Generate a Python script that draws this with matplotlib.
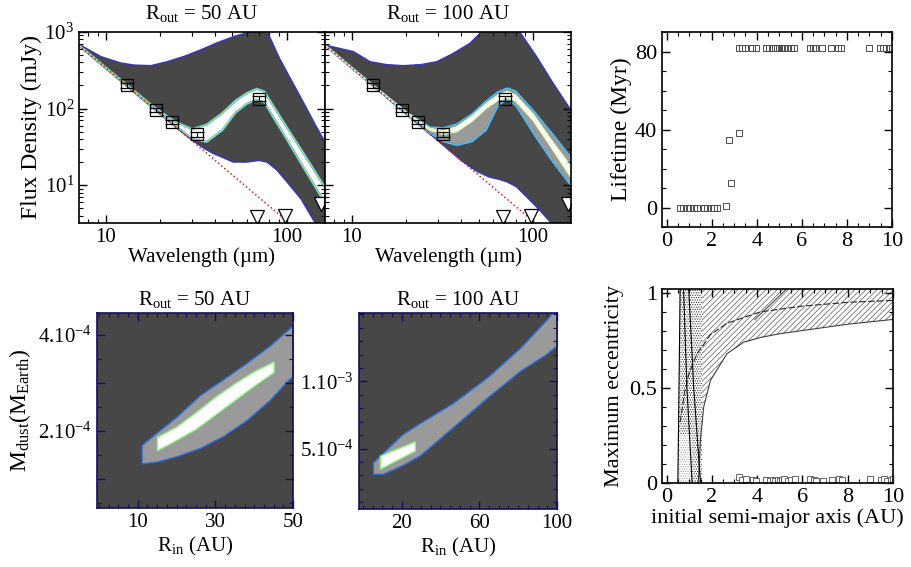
import matplotlib
matplotlib.use('Agg')
import matplotlib.pyplot as plt
from matplotlib.ticker import MultipleLocator, NullFormatter

plt.rcParams['font.family'] = 'serif'
plt.rcParams['font.serif'] = ['Liberation Serif', 'DejaVu Serif']
plt.rcParams['mathtext.fontset'] = 'custom'
plt.rcParams['mathtext.rm'] = 'Liberation Serif'
plt.rcParams['mathtext.it'] = 'Liberation Serif:italic'
plt.rcParams['mathtext.bf'] = 'Liberation Serif:bold'
plt.rcParams['hatch.linewidth'] = 0.5

# ---- SED data (wavelength in micron, flux in mJy) ----
lam_obs = [13.0, 18.8, 23.3, 32.0, 70.0]
flux_obs = [200, 96, 66, 46, 135]
err_obs = [14, 7, 4, 3, 10]
lam_ul = [68, 98, 155]
flux_ul = [3.8, 3.9, 5.6]
phot_lam = [7.1, 170]
phot_flux = [670, 1.17]

# R_out = 50 AU: envelope of all models
env1_hi_lam = [7.1, 9.4, 12, 14.3, 17.7, 21.8, 27, 33.3, 41, 50.6, 62, 70, 78, 91, 120, 143, 170]
env1_hi = [690, 476, 395, 370, 363, 409, 480, 582, 720, 868, 1000, 1300, 1000, 450, 135, 62, 30]
env1_lo_lam = [7.1, 13, 20, 25, 30, 35, 39, 45, 50.5, 60, 70, 77.6, 88, 100, 120, 143, 170]
env1_lo = [670, 200, 85, 54, 38.6, 30, 26, 22.5, 20, 20, 21, 20, 15.7, 11, 6.5, 3.2, 1.6]
# R_out = 50 AU: good fits
b1_lam = [7.1, 10, 13, 18, 24, 30, 36, 44, 52, 60, 68, 75, 85, 100, 125, 162]
b1_lo = [665, 336, 199, 104, 60, 40, 36.5, 52, 88, 115, 130, 120, 73, 39, 16, 5.8]
b1_hi = [680, 345, 207, 110, 68, 54, 62, 88, 128, 160, 182, 168, 105, 57, 25, 9.4]

# R_out = 100 AU: envelope of all models
env2_hi_lam = [7.1, 10.2, 12.6, 15.5, 19.2, 24, 29.4, 36, 44.8, 50.9, 60, 75, 84.5, 105, 129, 170]
env2_hi = [676, 553, 409, 375, 363, 375, 409, 520, 711, 960, 1300, 1400, 1000, 470, 214, 80]
env2_lo_lam = [7.1, 13, 20, 30, 40, 48.8, 57, 65.7, 72, 81, 92.3, 108, 126, 170]
env2_lo = [670, 200, 84.5, 37.6, 21.1, 15.2, 12.8, 11.8, 11, 9.5, 7, 4.8, 3.2, 1.5]
# R_out = 100 AU: acceptable fits (grey) and best fits (white)
g2_lam = [7.1, 13, 20, 27, 32, 38, 46, 55, 64, 72, 80, 90, 100, 125, 162]
g2_lo = [665, 198, 84, 47, 37, 33, 37, 52, 108, 132, 110, 72, 48, 22, 9.8]
g2_hi = [680, 205, 90, 57, 56, 63, 85, 125, 165, 185, 170, 125, 95, 50, 23]
w2_lam = [7.1, 13, 20, 27, 32, 38, 46, 55, 64, 72, 80, 100, 125, 162]
w2_lo = [668, 200, 86, 52, 46, 50, 68, 100, 128, 138, 125, 70, 32, 12.5]
w2_hi = [678, 204, 90, 55, 51, 58, 80, 116, 150, 168, 150, 85, 40, 17.5]

# ---- dust mass vs inner radius ----
g4_rin = [11, 15, 20, 26, 32, 38, 44, 48.5, 50]
g4_lo = [1.33e-4, 1.37e-4, 1.48e-4, 1.65e-4, 1.9e-4, 2.23e-4, 2.65e-4, 3.05e-4, 3.15e-4]
g4_hi = [1.71e-4, 1.98e-4, 2.3e-4, 2.75e-4, 3.08e-4, 3.42e-4, 3.78e-4, 4.1e-4, 4.2e-4]
w4_rin = [14.9, 20, 25, 30, 35, 40, 45]
w4_lo = [1.6e-4, 1.82e-4, 2.05e-4, 2.35e-4, 2.65e-4, 2.95e-4, 3.23e-4]
w4_hi = [1.88e-4, 2.1e-4, 2.4e-4, 2.72e-4, 3.0e-4, 3.25e-4, 3.45e-4]

g5_rin = [5.2, 10.4, 20.7, 29.4, 46.4, 64, 81, 94, 100]
g5_lo = [0.313e-3, 0.313e-3, 0.38e-3, 0.45e-3, 0.66e-3, 0.88e-3, 1.08e-3, 1.2e-3, 1.27e-3]
g5_hi = [0.396e-3, 0.47e-3, 0.61e-3, 0.69e-3, 0.84e-3, 1.03e-3, 1.25e-3, 1.45e-3, 1.55e-3]
w5_rin = [8.8, 26.8]
w5_lo = [0.35e-3, 0.485e-3]
w5_hi = [0.448e-3, 0.554e-3]

# ---- planetesimal lifetimes and eccentricities ----
short_a = [0.6, 0.75, 0.9, 1.05, 1.2, 1.35, 1.65, 1.8, 1.95, 2.1, 2.25, 2.65, 2.77, 2.86, 3.22]
short_life = [0, 0, 0, 0, 0, 0, 0, 0, 0, 0, 0, 0.8, 34.4, 12.8, 38]
surv_a = [3.2, 3.35, 3.5, 3.8, 3.95, 4.4, 4.55, 4.7, 4.8, 4.9, 5.0, 5.1, 5.2, 5.35, 5.5,
          5.65, 6.35, 6.5, 6.6, 6.9, 7.3, 7.6, 7.75, 9.0, 9.45, 9.6, 9.75, 9.9, 10.0]
surv_life = [82, 82, 82, 82, 82, 82, 82, 82, 82, 82, 82, 82, 82, 82, 82,
             82, 82, 82, 82, 82, 82, 82, 82, 82, 82, 82, 82, 82, 82]
surv_ecc = [0.03, 0.015, 0.02, 0.015, 0.01, 0.015, 0.01, 0.015, 0.01, 0.015, 0.01, 0.015, 0.02, 0.01, 0.015,
            0.02, 0.02, 0.015, 0.01, 0.01, 0.015, 0.02, 0.015, 0.02, 0.015, 0.02, 0.01, 0.015, 0.02]

hatch_a = [1.4, 1.5, 1.64, 1.94, 2.67, 3.4, 4.14, 5.0, 6.5, 8.0, 10.0]
hatch_e = [0.0, 0.23, 0.40, 0.54, 0.68, 0.74, 0.765, 0.785, 0.81, 0.835, 0.86]
mid_a = [0.6, 0.8, 1.0, 1.35, 1.94, 2.67, 4.14, 6.0, 8.0, 10.0]
mid_e = [0.32, 0.48, 0.58, 0.68, 0.78, 0.84, 0.90, 0.93, 0.95, 0.96]
top_a = [3.9, 5.3]
top_e = [0.86, 1.02]
stip_e = [0.0, 0.25, 0.25, 1.02]
stip_left = [1.1, 1.1, 0.55, 0.57]
stip_right = [1.57, 1.57, 1.57, 1.57]
light_e = [0.0, 0.25]
light_left = [0.47, 0.5]
light_right = [1.1, 1.1]
apo_lines = [([0.5, 0.6], [0.0, 1.02]),
             ([1.13, 0.9, 0.75], [0.0, 0.5, 1.02]),
             ([1.5, 1.2, 0.98], [0.0, 0.5, 1.02])]


def style_ticks(ax, col='k'):
    ax.tick_params(which='both', direction='in', top=True, right=True, color=col)
    ax.tick_params(which='major', length=6, width=1, labelsize=15)
    ax.tick_params(which='minor', length=3, width=0.8)
    for s in ax.spines.values():
        s.set_color(col)
        s.set_linewidth(1.2)


def draw_sed(ax, hi_lam, hi_f, lo_lam, lo_f, bands):
    ax.fill(hi_lam + lo_lam[::-1], hi_f + lo_f[::-1], color='#474747', lw=0)
    ax.plot(hi_lam, hi_f, color='#3434c0', lw=1)
    ax.plot(lo_lam, lo_f, color='#3434c0', lw=1)
    for lam, lo, hi, face, edge, inner, elw in bands:
        ax.fill(lam + lam[::-1], hi + lo[::-1], facecolor=face, edgecolor=edge, lw=elw)
        ax.plot(lam, lo, color=inner, lw=0.7)
        ax.plot(lam, hi, color=inner, lw=0.7)
    ax.plot(phot_lam, phot_flux, ':', color='#d02020', lw=1.1)
    ax.errorbar(lam_obs, flux_obs, yerr=err_obs, fmt='s', ms=9, mfc='none', mec='k',
                mew=0.9, ecolor='k', elinewidth=0.8, capsize=5)
    ax.plot(lam_ul, flux_ul, 'v', ms=10, mfc='white', mec='k', mew=0.9)
    ax.set_xscale('log')
    ax.set_yscale('log')
    ax.set_xlim(7.1, 162)
    ax.set_ylim(3.2, 1000)
    ax.set_xticks([10, 100])
    ax.set_xticklabels(['10', '100'])
    ax.set_yticks([10, 100, 1000])
    ax.xaxis.set_minor_formatter(NullFormatter())
    ax.yaxis.set_minor_formatter(NullFormatter())
    ax.set_xlabel('Wavelength (µm)', fontsize=15, labelpad=0)
    style_ticks(ax)


def draw_mass(ax, g_rin, g_lo, g_hi, w_rin, w_lo, w_hi):
    ax.set_facecolor('#474747')
    ax.fill_between(g_rin, g_lo, g_hi, facecolor='#9a9a9a', edgecolor='#2f6fe0', lw=1)
    ax.fill_between(w_rin, w_lo, w_hi, facecolor='white', edgecolor='#8ff080', lw=1)
    ax.set_xlabel(r'R$_{\rm in}$ (AU)', fontsize=15, labelpad=2)
    style_ticks(ax, '#10105a')
    ax.tick_params(labelcolor='k')


fig = plt.figure(figsize=(9.12, 5.67), dpi=100)
ax1 = fig.add_axes([0.0866, 0.6067, 0.2697, 0.3369])
ax2 = fig.add_axes([0.3564, 0.6067, 0.2697, 0.3369])
ax3 = fig.add_axes([0.7259, 0.5996, 0.2522, 0.3439])
ax4 = fig.add_axes([0.1064, 0.1041, 0.2149, 0.3439])
ax5 = fig.add_axes([0.3936, 0.1023, 0.2171, 0.3457])
ax6 = fig.add_axes([0.7259, 0.1481, 0.2533, 0.3422])

draw_sed(ax1, env1_hi_lam, env1_hi, env1_lo_lam, env1_lo,
         [(b1_lam, b1_lo, b1_hi, 'white', '#2a9ae0', '#c8f070', 1.6)])
ax1.set_yticklabels(['$10^1$', '$10^2$', '$10^3$'])
ax1.set_ylabel('Flux Density (mJy)', fontsize=17, labelpad=2)
ax1.set_title(r'R$_{\rm out}$ = 50 AU', fontsize=15, pad=9)

draw_sed(ax2, env2_hi_lam, env2_hi, env2_lo_lam, env2_lo,
         [(g2_lam, g2_lo, g2_hi, '#9a9a9a', '#2a9ae0', '#60c8f0', 1.2),
          (w2_lam, w2_lo, w2_hi, 'white', '#d8f8a0', '#e8fcc8', 0.8)])
ax2.set_yticklabels([])
ax2.set_title(r'R$_{\rm out}$ = 100 AU', fontsize=15, pad=9)

# dust mass maps
draw_mass(ax4, g4_rin, g4_lo, g4_hi, w4_rin, w4_lo, w4_hi)
ax4.set_xlim(-0.5, 50)
ax4.set_ylim(0.4e-4, 4.46e-4)
ax4.set_xticks([10, 30, 50])
ax4.xaxis.set_minor_locator(MultipleLocator(2.5))
ax4.set_yticks([1e-4, 2e-4, 3e-4, 4e-4])
ax4.set_yticklabels(['', '2.10$^{-4}$', '', '4.10$^{-4}$'])
ax4.yaxis.set_minor_locator(MultipleLocator(0.5e-4))
ax4.set_ylabel(r'M$_{\rm dust}$(M$_{\rm Earth}$)', fontsize=17, labelpad=4)
ax4.set_title(r'R$_{\rm out}$ = 50 AU', fontsize=15, pad=6)

draw_mass(ax5, g5_rin, g5_lo, g5_hi, w5_rin, w5_lo, w5_hi)
ax5.set_xlim(-2, 100)
ax5.set_ylim(0.05e-3, 1.51e-3)
ax5.set_xticks([20, 60, 100])
ax5.xaxis.set_minor_locator(MultipleLocator(5))
ax5.set_yticks([0.5e-3, 1e-3])
ax5.set_yticklabels(['5.10$^{-4}$', '1.10$^{-3}$'])
ax5.yaxis.set_minor_locator(MultipleLocator(1e-4))
ax5.set_title(r'R$_{\rm out}$ = 100 AU', fontsize=15, pad=6)

# lifetime vs semi-major axis
ax3.plot(short_a, short_life, 's', ms=4.5, mfc='none', mec='0.3', mew=0.7)
ax3.plot(surv_a, surv_life, 's', ms=4.5, mfc='none', mec='0.3', mew=0.7)
ax3.set_xlim(-0.2, 10)
ax3.set_ylim(-10, 90)
ax3.xaxis.set_major_locator(MultipleLocator(2))
ax3.xaxis.set_minor_locator(MultipleLocator(0.5))
ax3.yaxis.set_major_locator(MultipleLocator(40))
ax3.yaxis.set_minor_locator(MultipleLocator(10))
ax3.set_ylabel('Lifetime (Myr)', fontsize=17, labelpad=2)
style_ticks(ax3)
ax3.tick_params(labelsize=16)

# maximum eccentricity vs semi-major axis
ax6.fill_between(hatch_a, hatch_e, 1.02, facecolor='white', edgecolor='0.35', hatch='//////', lw=0)
ax6.fill_betweenx(stip_e, stip_left, stip_right, facecolor='white', edgecolor='0.15', hatch='.......', lw=0)
ax6.fill_betweenx(light_e, light_left, light_right, facecolor='white', edgecolor='0.6', hatch='.......', lw=0)
ax6.plot(hatch_a, hatch_e, color='0.25', lw=0.8)
ax6.plot(mid_a, mid_e, color='0.15', lw=0.8, dashes=(6, 2))
ax6.plot(top_a, top_e, color='0.2', lw=0.7)
for la, le in apo_lines:
    ax6.plot(la, le, color='k', lw=0.8)
ax6.plot(surv_a, surv_ecc, 's', ms=4.5, mfc='white', mec='0.4', mew=0.7)
ax6.set_xlim(-0.2, 10)
ax6.set_ylim(0, 1.02)
ax6.xaxis.set_major_locator(MultipleLocator(2))
ax6.xaxis.set_minor_locator(MultipleLocator(0.5))
ax6.set_yticks([0, 0.5, 1])
ax6.set_yticklabels(['0', '0.5', '1'])
ax6.yaxis.set_minor_locator(MultipleLocator(0.1))
ax6.set_ylabel('Maximum eccentricity', fontsize=16, labelpad=4)
ax6.set_xlabel('initial semi-major axis (AU)', fontsize=16, labelpad=1)
style_ticks(ax6)
ax6.tick_params(labelsize=16)

fig.savefig('out.png', dpi=100)
